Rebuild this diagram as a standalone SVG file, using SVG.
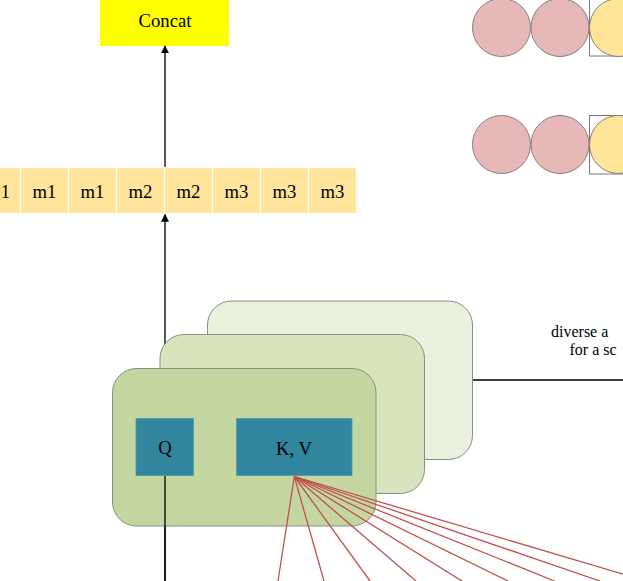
<svg xmlns="http://www.w3.org/2000/svg" width="623" height="581" viewBox="0 0 623 581">
<defs>
<style>
text{font-family:"Liberation Serif","Tinos","Times New Roman","DejaVu Serif","Noto Serif",serif;font-size:18.7px;fill:#000}
.c{text-anchor:middle}
.lbl{font-size:16px}
.cell{fill:#FFE599;stroke:#fff;stroke-width:1.2}
.pink{fill:#E6B9B8;stroke:#8c7b7b;stroke-width:1}
.yel{fill:#FFE599;stroke:#8c7b7b;stroke-width:1}
.card{stroke:#8a8f80;stroke-width:1}
.tile{fill:#31859C;stroke:#4a9db0;stroke-width:0.8}
.red{stroke:#C0504D;stroke-width:1.3;fill:none}
.blk{stroke:#000;stroke-width:1.3;fill:none}
</style>
<marker id="ah" viewBox="0 0 10 10" refX="9" refY="5" markerWidth="8" markerHeight="8" orient="auto" markerUnits="userSpaceOnUse">
<path d="M0,0 L10,5 L0,10 z" fill="#000"/>
</marker>
</defs>

<g id="concat">
<rect x="100" y="0" width="129" height="46" fill="#FFFF00"/>
<text class="c" x="165" y="27">Concat</text>
</g>

<g id="circles">
<rect x="589.5" y="-2" width="60" height="58" fill="#fff" stroke="#777" stroke-width="1"/>
<circle class="pink" cx="501.5" cy="27.5" r="29"/>
<circle class="pink" cx="560" cy="27.5" r="29"/>
<circle class="yel" cx="618.5" cy="27.5" r="29"/>
<rect x="589.5" y="115.5" width="60" height="58.5" fill="#fff" stroke="#777" stroke-width="1"/>
<circle class="pink" cx="501.5" cy="144.5" r="29"/>
<circle class="pink" cx="560" cy="144.5" r="29"/>
<circle class="yel" cx="618.5" cy="144.5" r="29"/>
</g>

<g id="connectors">
<line class="blk" x1="165" y1="581" x2="165" y2="214.5" marker-end="url(#ah)"/>
<line class="blk" x1="165" y1="167.5" x2="165" y2="46" marker-end="url(#ah)"/>
<line class="blk" x1="472" y1="380" x2="623" y2="380"/>
</g>

<g id="mrow">
<rect class="cell" x="-27.5" y="167.5" width="48" height="46"/>
<rect class="cell" x="20.5" y="167.5" width="48" height="46"/>
<rect class="cell" x="68.5" y="167.5" width="48" height="46"/>
<rect class="cell" x="116.5" y="167.5" width="48" height="46"/>
<rect class="cell" x="164.5" y="167.5" width="48" height="46"/>
<rect class="cell" x="212.5" y="167.5" width="48" height="46"/>
<rect class="cell" x="260.5" y="167.5" width="48" height="46"/>
<rect class="cell" x="308.5" y="167.5" width="48" height="46"/>
<text class="c" x="5.5" y="198">1</text>
<text class="c" x="44.5" y="198">m1</text>
<text class="c" x="92.5" y="198">m1</text>
<text class="c" x="140.5" y="198">m2</text>
<text class="c" x="188.5" y="198">m2</text>
<text class="c" x="236.5" y="198">m3</text>
<text class="c" x="284.5" y="198">m3</text>
<text class="c" x="332.5" y="198">m3</text>
</g>

<g id="label">
<text class="lbl" x="551" y="337">diverse a</text>
<text class="lbl" x="569.5" y="355">for a sc</text>
</g>

<g id="card3">
<rect class="card" x="207.5" y="301" width="265" height="158.5" rx="24" fill="#E9F0DE"/>
</g>
<g id="card2">
<rect class="card" x="160" y="334.5" width="264.5" height="159" rx="24" fill="#D7E4BD"/>
</g>
<g id="card1">
<rect class="card" x="112.5" y="368.5" width="263.5" height="157.5" rx="24" fill="#C4D6A0"/>
</g>

<g id="q">
<rect class="tile" x="136" y="418.5" width="57.5" height="57"/>
<text class="c" x="165" y="454">Q</text>
</g>
<g id="kv">
<rect class="tile" x="236.5" y="418.5" width="115.5" height="57"/>
<text class="c" x="294" y="455">K, V</text>
</g>

<g id="qline">
<line class="blk" x1="165" y1="476" x2="165" y2="581"/>
</g>

<g id="fan">
<line class="red" x1="294.3" y1="476.5" x2="278" y2="581"/>
<line class="red" x1="294.3" y1="476.5" x2="324" y2="581"/>
<line class="red" x1="294.3" y1="476.5" x2="370" y2="581"/>
<line class="red" x1="294.3" y1="476.5" x2="416" y2="581"/>
<line class="red" x1="294.3" y1="476.5" x2="462" y2="581"/>
<line class="red" x1="294.3" y1="476.5" x2="508" y2="581"/>
<line class="red" x1="294.3" y1="476.5" x2="554.5" y2="581"/>
<line class="red" x1="294.3" y1="476.5" x2="600" y2="581"/>
<line class="red" x1="294.3" y1="476.5" x2="646" y2="581"/>
</g>
</svg>
